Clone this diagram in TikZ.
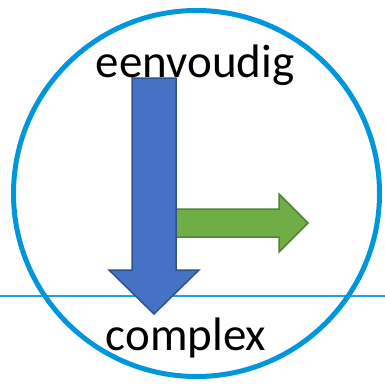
\documentclass[tikz,border=0pt]{standalone}
\usepackage{fontspec}
\setmainfont{Carlito}
\definecolor{ringblue}{RGB}{0,150,219}
\definecolor{ruleblue}{RGB}{30,160,225}
\definecolor{downfill}{RGB}{68,114,196}
\definecolor{downedge}{RGB}{47,82,143}
\definecolor{rightfill}{RGB}{112,173,71}
\definecolor{rightedge}{RGB}{84,130,53}
\tikzset{
  label text/.style={anchor=base, inner sep=0pt, font=\fontsize{47}{50}\selectfont},
  downarrow/.style={fill=downfill, draw=downedge, line width=1.5pt, line join=miter},
  rightarrow/.style={fill=rightfill, draw=rightedge, line width=1.5pt, line join=miter},
}
\begin{document}
\begin{tikzpicture}[x=1pt,y=-1pt]
  \useasboundingbox (0,0) rectangle (385,383);
  % horizontal rule across the whole width
  \coordinate (ruleL) at (0,295.5);
  \coordinate (ruleR) at (385,295.5);
  \draw[draw=ruleblue, line width=2pt] (ruleL) -- (ruleR);
  % outer ring
  \node[circle, draw=ringblue, line width=5pt, minimum size=366pt, inner sep=0pt] (ring) at (196.5,193.5) {};
  % arrow to the right
  \draw[rightarrow] (176,209) -- (279,209) -- (279,194) -- (308,223) -- (279,252) -- (279,237) -- (176,237) -- cycle;
  % arrow downwards
  \draw[downarrow] (132,78) -- (176,78) -- (176,270) -- (199,270) -- (154,314) -- (109,270) -- (132,270) -- cycle;
  % labels
  \node[label text] (top) at (195,77) {eenvoudig};
  \node[label text] (bottom) at (186,350) {complex};
\end{tikzpicture}
\end{document}
